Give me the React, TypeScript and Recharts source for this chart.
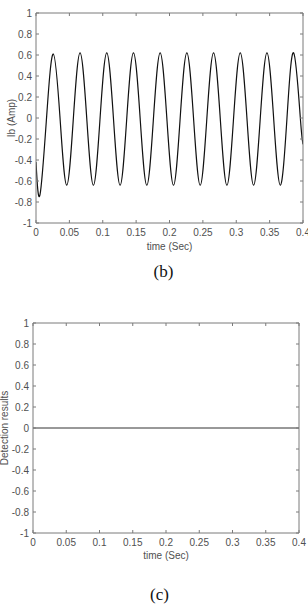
import React from "react";
import { LineChart, Line, XAxis, YAxis } from "recharts";

const timeTicks = [0, 0.05, 0.1, 0.15, 0.2, 0.25, 0.3, 0.35, 0.4];
const ampTicks = [-1, -0.8, -0.6, -0.4, -0.2, 0, 0.2, 0.4, 0.6, 0.8, 1];

// (b) phase current Ib, read at troughs / zero crossings / peaks
const ibTime = [
  0, 0.006, 0.016, 0.026, 0.036, 0.046, 0.056, 0.066, 0.076, 0.086, 0.096,
  0.106, 0.116, 0.126, 0.136, 0.146, 0.156, 0.166, 0.176, 0.186, 0.196, 0.206,
  0.216, 0.226, 0.236, 0.246, 0.256, 0.266, 0.276, 0.286, 0.296, 0.306, 0.316,
  0.326, 0.336, 0.346, 0.356, 0.366, 0.376, 0.386, 0.396, 0.4,
];
const ibValue = [
  -0.42, -0.73, 0.02, 0.61, 0, -0.64, 0, 0.62, 0, -0.64, 0,
  0.62, 0, -0.64, 0, 0.62, 0, -0.64, 0, 0.62, 0, -0.64,
  0, 0.62, 0, -0.64, 0, 0.62, 0, -0.64, 0, 0.62, 0,
  -0.64, 0, 0.62, 0, -0.64, 0, 0.62, 0, -0.25,
];

// (c) detection output
const detectTime = [0, 0.4];
const detectValue = [0, 0];

const ibData = ibTime.map((t, i) => ({ t, v: ibValue[i] }));
const detectData = detectTime.map((t, i) => ({ t, v: detectValue[i] }));

const AXIS = "#7a7a7a";
const LABEL = "#505050";
const FONT = "Liberation Sans, Arial, sans-serif";

const fmt = (v: number) => String(Math.round(v * 100) / 100);

const BottomTick = ({ x, y, payload }: any) => (
  <g>
    <line x1={x} y1={y} x2={x} y2={y - 3} stroke={AXIS} />
    <text x={x} y={y + 12.5} textAnchor="middle" fontSize={10} fill={LABEL} fontFamily={FONT}>
      {fmt(payload.value)}
    </text>
  </g>
);

const TopTick = ({ x, y }: any) => (
  <line x1={x} y1={y} x2={x} y2={y + 3} stroke={AXIS} />
);

const LeftTick = ({ x, y, payload }: any) => (
  <g>
    <line x1={x} y1={y} x2={x + 3} y2={y} stroke={AXIS} />
    <text x={x - 4} y={y} dy="0.35em" textAnchor="end" fontSize={10} fill={LABEL} fontFamily={FONT}>
      {fmt(payload.value)}
    </text>
  </g>
);

const RightTick = ({ x, y }: any) => (
  <line x1={x} y1={y} x2={x - 3} y2={y} stroke={AXIS} />
);

const XTitle = ({ viewBox, text, dy }: any) => {
  const cx = viewBox.x + viewBox.width / 2;
  return (
    <text x={cx} y={viewBox.y + dy} textAnchor="middle" fontSize={10} fill={LABEL} fontFamily={FONT}>
      {text}
    </text>
  );
};

const YTitle = ({ viewBox, text, bx }: any) => {
  const cy = viewBox.y + viewBox.height / 2;
  return (
    <text
      x={bx}
      y={cy}
      transform={`rotate(-90 ${bx} ${cy})`}
      textAnchor="middle"
      fontSize={10}
      fill={LABEL}
      fontFamily={FONT}
    >
      {text}
    </text>
  );
};

type PanelProps = {
  data: { t: number; v: number }[];
  top: number;
  height: number;
  margin: { top: number; right: number; bottom: number; left: number };
  yWidth: number;
  yTitle: string;
  yTitleX: number;
  xTitleDy: number;
  stroke: string;
  strokeWidth: number;
  curve: "natural" | "linear";
};

const Panel = (p: PanelProps) => (
  <div style={{ position: "absolute", left: 0, top: p.top }}>
    <LineChart width={308} height={p.height} data={p.data} margin={p.margin}>
      <XAxis
        dataKey="t"
        type="number"
        domain={[0, 0.4]}
        ticks={timeTicks}
        interval={0}
        height={30}
        tickSize={0}
        tickMargin={0}
        tickLine={false}
        axisLine={{ stroke: AXIS }}
        tick={<BottomTick />}
        label={<XTitle text="time (Sec)" dy={p.xTitleDy} />}
        allowDataOverflow
      />
      <XAxis
        xAxisId="top"
        orientation="top"
        dataKey="t"
        type="number"
        domain={[0, 0.4]}
        ticks={timeTicks}
        interval={0}
        height={1}
        tickSize={0}
        tickMargin={0}
        tickLine={false}
        axisLine={{ stroke: AXIS }}
        tick={<TopTick />}
        allowDataOverflow
      />
      <YAxis
        type="number"
        domain={[-1, 1]}
        ticks={ampTicks}
        interval={0}
        width={p.yWidth}
        tickSize={0}
        tickMargin={0}
        tickLine={false}
        axisLine={{ stroke: AXIS }}
        tick={<LeftTick />}
        label={<YTitle text={p.yTitle} bx={p.yTitleX} />}
        allowDataOverflow
      />
      <YAxis
        yAxisId="right"
        orientation="right"
        type="number"
        domain={[-1, 1]}
        ticks={ampTicks}
        interval={0}
        width={1}
        tickSize={0}
        tickMargin={0}
        tickLine={false}
        axisLine={{ stroke: AXIS }}
        tick={<RightTick />}
        allowDataOverflow
      />
      <Line
        dataKey="v"
        type={p.curve}
        stroke={p.stroke}
        strokeWidth={p.strokeWidth}
        dot={false}
        isAnimationActive={false}
      />
    </LineChart>
  </div>
);

export default function App() {
  return (
    <div
      style={{
        position: "absolute",
        left: 0,
        top: 0,
        width: 308,
        height: 611,
        background: "#fff",
        overflow: "hidden",
      }}
    >
      <Panel
        data={ibData}
        top={0}
        height={260}
        margin={{ top: 12, right: 4, bottom: 7, left: 0 }}
        yWidth={36}
        yTitle="Ib (Amp)"
        yTitleX={14.5}
        xTitleDy={27}
        stroke="#111"
        strokeWidth={1.2}
        curve="natural"
      />
      <Panel
        data={detectData}
        top={300}
        height={270}
        margin={{ top: 22, right: 8, bottom: 7, left: 0 }}
        yWidth={33}
        yTitle="Detection results"
        yTitleX={8}
        xTitleDy={26}
        stroke="#333"
        strokeWidth={1}
        curve="linear"
      />
      <svg
        width={308}
        height={611}
        style={{ position: "absolute", left: 0, top: 0, pointerEvents: "none" }}
      >
        <text x={163.5} y={277} textAnchor="middle" fontSize={17} fontFamily="Liberation Serif, Times New Roman, serif" fill="#111">
          (b)
        </text>
        <text x={159.5} y={600} textAnchor="middle" fontSize={17} fontFamily="Liberation Serif, Times New Roman, serif" fill="#111">
          (c)
        </text>
      </svg>
    </div>
  );
}
